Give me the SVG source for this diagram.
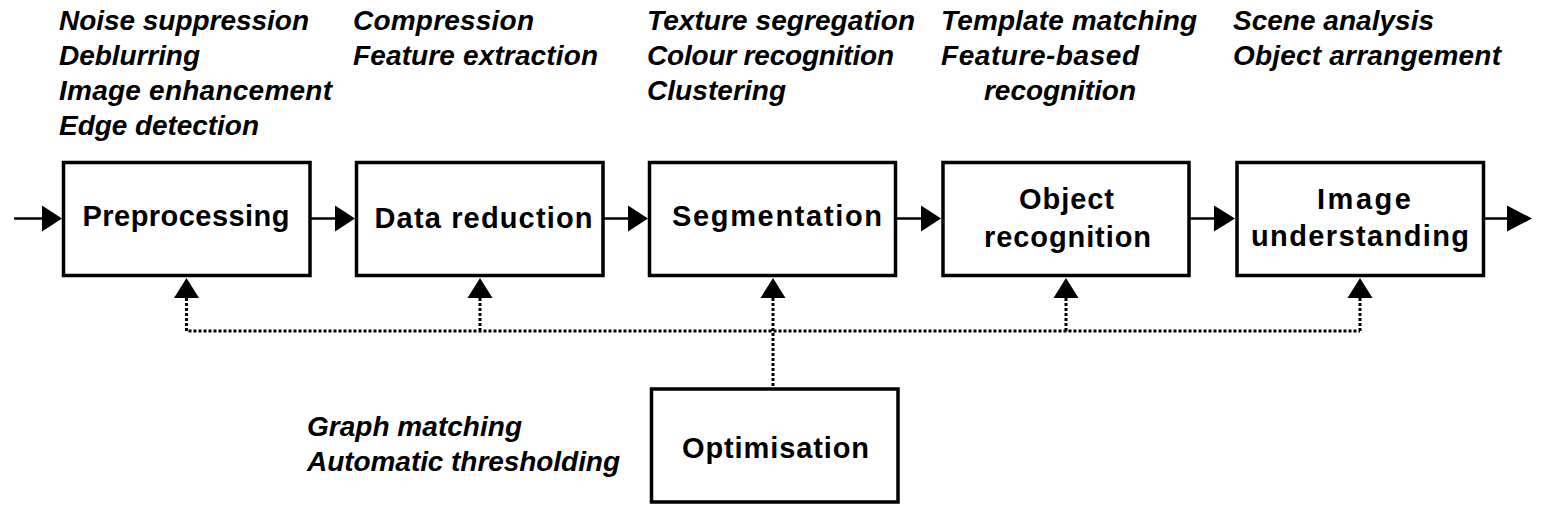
<svg xmlns="http://www.w3.org/2000/svg" width="1548" height="519" viewBox="0 0 1548 519">
<style>
.box{fill:#fff;stroke:#000;stroke-width:3.5}
.lbl{font-family:"Liberation Sans",Arial,sans-serif;font-weight:bold;font-size:29px;fill:#000;text-anchor:middle}
.it{font-family:"Liberation Sans",Arial,sans-serif;font-weight:bold;font-style:italic;font-size:28px;fill:#000}
.ln{stroke:#000;stroke-width:2.5;fill:none}
.dot{stroke:#000;stroke-width:3;fill:none;stroke-dasharray:3 2}
.ah{fill:#000}
</style>
<rect width="1548" height="519" fill="#fff"/>
<g id="connectors">
  <line class="ln" x1="14" y1="218.5" x2="44" y2="218.5"/>
  <polygon class="ah" points="42,205.5 62,218.5 42,231.5"/>
  <line class="ln" x1="311" y1="218.5" x2="338" y2="218.5"/>
  <polygon class="ah" points="335,205.5 355,218.5 335,231.5"/>
  <line class="ln" x1="604" y1="218.5" x2="631" y2="218.5"/>
  <polygon class="ah" points="628,205.5 648,218.5 628,231.5"/>
  <line class="ln" x1="897" y1="218.5" x2="924" y2="218.5"/>
  <polygon class="ah" points="921,205.5 941,218.5 921,231.5"/>
  <line class="ln" x1="1190" y1="218.5" x2="1217" y2="218.5"/>
  <polygon class="ah" points="1214,205.5 1235,218.5 1214,231.5"/>
  <line class="ln" x1="1484" y1="218.5" x2="1510" y2="218.5"/>
  <polygon class="ah" points="1507,205.5 1532,218.5 1507,231.5"/>
  <path class="dot" d="M186.5,298 V331 H1360 M480,298 V331 M773,298 V389 M1066,298 V331 M1360,298 V331"/>
  <polygon class="ah" points="174,298 186.5,278 199,298"/>
  <polygon class="ah" points="467.5,298 480,278 492.5,298"/>
  <polygon class="ah" points="760.5,298 773,278 785.5,298"/>
  <polygon class="ah" points="1053.5,298 1066,278 1078.5,298"/>
  <polygon class="ah" points="1347.5,298 1360,278 1372.5,298"/>
</g>
<g id="preprocessing">
  <rect class="box" x="63.5" y="162.5" width="246.5" height="113"/>
  <text class="lbl" x="186" y="226" textLength="207" lengthAdjust="spacing">Preprocessing</text>
</g>
<g id="data-reduction">
  <rect class="box" x="356.5" y="162.5" width="246.5" height="113"/>
  <text class="lbl" x="483.5" y="228" textLength="218" lengthAdjust="spacing">Data reduction</text>
</g>
<g id="segmentation">
  <rect class="box" x="649.5" y="162.5" width="246" height="113"/>
  <text class="lbl" x="777" y="226" textLength="210" lengthAdjust="spacing">Segmentation</text>
</g>
<g id="object-recognition">
  <rect class="box" x="943" y="162.5" width="246" height="113"/>
  <text class="lbl" x="1066.5" y="209" textLength="95" lengthAdjust="spacing">Object</text>
  <text class="lbl" x="1067.5" y="247" textLength="167" lengthAdjust="spacing">recognition</text>
</g>
<g id="image-understanding">
  <rect class="box" x="1237" y="162.5" width="246.5" height="113"/>
  <text class="lbl" x="1364" y="209" textLength="94" lengthAdjust="spacing">Image</text>
  <text class="lbl" x="1360" y="246" textLength="218" lengthAdjust="spacing">understanding</text>
</g>
<g id="optimisation">
  <rect class="box" x="651.5" y="389" width="246.5" height="113"/>
  <text class="lbl" x="775.5" y="458" textLength="187" lengthAdjust="spacing">Optimisation</text>
</g>
<g id="annotations">
  <text class="it" x="59" y="30" textLength="250" lengthAdjust="spacing">Noise suppression</text>
  <text class="it" x="59" y="65" textLength="141" lengthAdjust="spacing">Deblurring</text>
  <text class="it" x="59" y="100" textLength="273" lengthAdjust="spacing">Image enhancement</text>
  <text class="it" x="59" y="135" textLength="200" lengthAdjust="spacing">Edge detection</text>
  <text class="it" x="353" y="30" textLength="181" lengthAdjust="spacing">Compression</text>
  <text class="it" x="353" y="65" textLength="245" lengthAdjust="spacing">Feature extraction</text>
  <text class="it" x="647" y="30" textLength="268" lengthAdjust="spacing">Texture segregation</text>
  <text class="it" x="647" y="65" textLength="247" lengthAdjust="spacing">Colour recognition</text>
  <text class="it" x="647" y="100" textLength="139" lengthAdjust="spacing">Clustering</text>
  <text class="it" x="941" y="30" textLength="256" lengthAdjust="spacing">Template matching</text>
  <text class="it" x="941" y="65" textLength="198" lengthAdjust="spacing">Feature-based</text>
  <text class="it" x="984" y="100" textLength="152" lengthAdjust="spacing">recognition</text>
  <text class="it" x="1233" y="30" textLength="201" lengthAdjust="spacing">Scene analysis</text>
  <text class="it" x="1233" y="65" textLength="268" lengthAdjust="spacing">Object arrangement</text>
  <text class="it" x="307" y="436" textLength="215" lengthAdjust="spacing">Graph matching</text>
  <text class="it" x="307" y="471" textLength="313" lengthAdjust="spacing">Automatic thresholding</text>
</g>
</svg>
